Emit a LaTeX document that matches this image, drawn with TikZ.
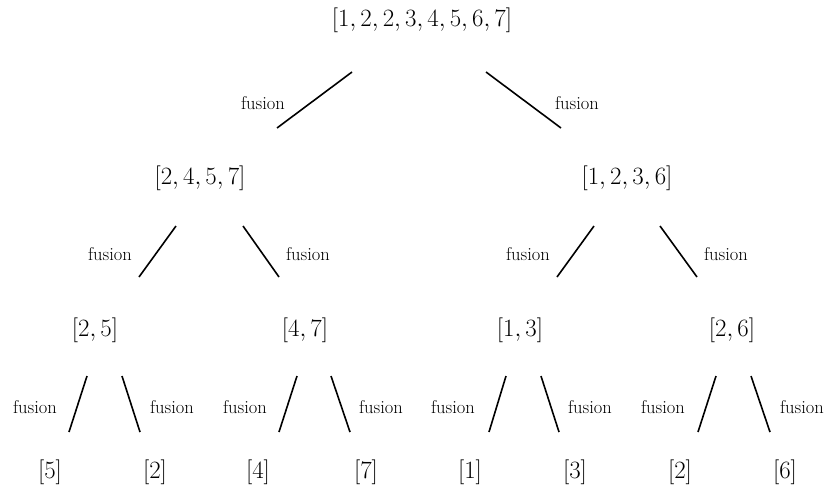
\documentclass[tikz,border=0pt]{standalone}
\begin{document}
\begin{tikzpicture}[x=1pt,y=-1pt,
  lst/.style={font=\fontsize{23}{28}\selectfont, inner sep=0pt},
  fus/.style={font=\fontsize{18.5}{22}\selectfont, inner sep=0pt},
  edg/.style={line width=1.6pt}]
\useasboundingbox (0,0) rectangle (827,488);
% nodes
\node[lst] (r) at (422,20) {$[1,2,2,3,4,5,6,7]$};
\node[lst] (a) at (200,178) {$[2,4,5,7]$};
\node[lst] (b) at (627,178) {$[1,2,3,6]$};
\node[lst] (aa) at (95,330) {$[2,5]$};
\node[lst] (ab) at (305,330) {$[4,7]$};
\node[lst] (ba) at (520,330) {$[1,3]$};
\node[lst] (bb) at (732,330) {$[2,6]$};
\node[lst] (l1) at (50,472) {$[5]$};
\node[lst] (l2) at (155,472) {$[2]$};
\node[lst] (l3) at (258,472) {$[4]$};
\node[lst] (l4) at (366,472) {$[7]$};
\node[lst] (l5) at (470,472) {$[1]$};
\node[lst] (l6) at (575,472) {$[3]$};
\node[lst] (l7) at (680,472) {$[2]$};
\node[lst] (l8) at (785,472) {$[6]$};
% connector end points
\coordinate (r1) at (352,72);  \coordinate (a0) at (277,128);
\coordinate (r2) at (486,72);  \coordinate (b0) at (561,128);
\coordinate (a1) at (176,226); \coordinate (aa0) at (139,277);
\coordinate (a2) at (243,226); \coordinate (ab0) at (279,277);
\coordinate (b1) at (594,226); \coordinate (ba0) at (557,277);
\coordinate (b2) at (660,226); \coordinate (bb0) at (697,277);
\coordinate (aa1) at (87,376);  \coordinate (l10) at (69,432);
\coordinate (aa2) at (122,376); \coordinate (l20) at (140,432);
\coordinate (ab1) at (297,376); \coordinate (l30) at (279,432);
\coordinate (ab2) at (331,376); \coordinate (l40) at (350,432);
\coordinate (ba1) at (506,376); \coordinate (l50) at (489,432);
\coordinate (ba2) at (541,376); \coordinate (l60) at (559,432);
\coordinate (bb1) at (716,376); \coordinate (l70) at (698,432);
\coordinate (bb2) at (751,376); \coordinate (l80) at (770,432);
% edges
\draw[edg] (r1) -- (a0);
\draw[edg] (r2) -- (b0);
\draw[edg] (a1) -- (aa0);
\draw[edg] (a2) -- (ab0);
\draw[edg] (b1) -- (ba0);
\draw[edg] (b2) -- (bb0);
\draw[edg] (aa1) -- (l10);
\draw[edg] (aa2) -- (l20);
\draw[edg] (ab1) -- (l30);
\draw[edg] (ab2) -- (l40);
\draw[edg] (ba1) -- (l50);
\draw[edg] (ba2) -- (l60);
\draw[edg] (bb1) -- (l70);
\draw[edg] (bb2) -- (l80);
% labels
\node[fus] (f1) at (263,103) {fusion};
\node[fus] (f2) at (577,103) {fusion};
\node[fus] (f3) at (110,254) {fusion};
\node[fus] (f4) at (308,254) {fusion};
\node[fus] (f5) at (528,254) {fusion};
\node[fus] (f6) at (726,254) {fusion};
\node[fus] (f7) at (35,407) {fusion};
\node[fus] (f8) at (172,407) {fusion};
\node[fus] (f9) at (245,407) {fusion};
\node[fus] (f10) at (381,407) {fusion};
\node[fus] (f11) at (453,407) {fusion};
\node[fus] (f12) at (590,407) {fusion};
\node[fus] (f13) at (663,407) {fusion};
\node[fus] (f14) at (802,407) {fusion};
\end{tikzpicture}
\end{document}
